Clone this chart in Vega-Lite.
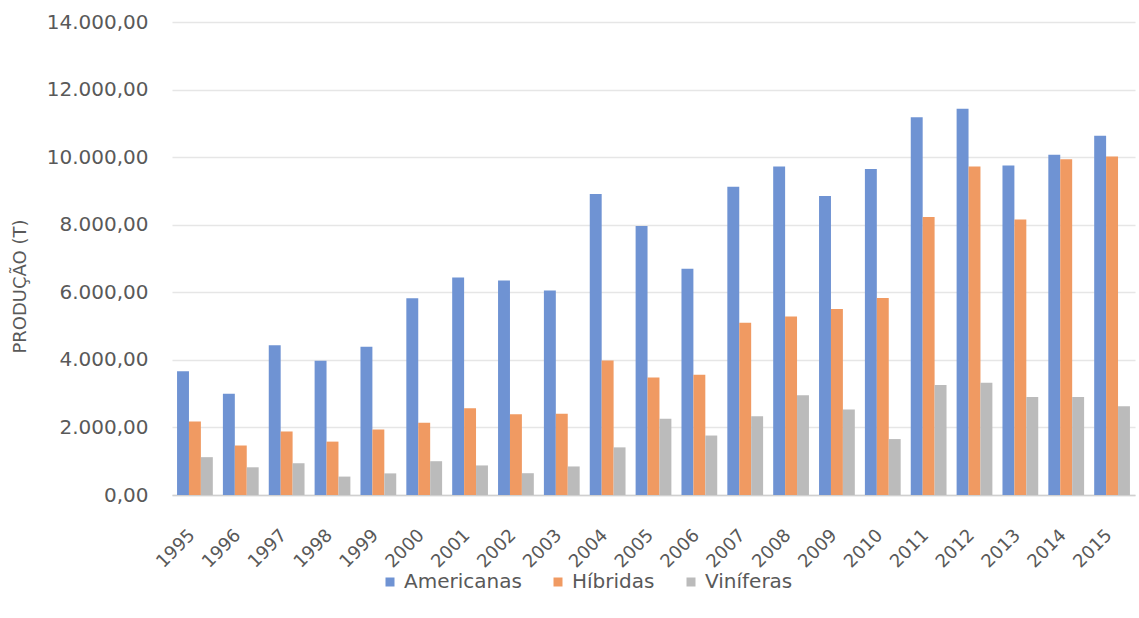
{
  "$schema": "https://vega.github.io/schema/vega-lite/v6.json",
  "width": 963,
  "height": 473,
  "autosize": {"type": "none"},
  "padding": {"left": 172, "top": 22, "right": 4, "bottom": 123},
  "background": "white",
  "config": {
    "locale": {"number": {"decimal": ",", "thousands": ".", "grouping": [3], "currency": ["R$", ""]}},
    "view": {"stroke": null},
    "font": "DejaVu Sans"
  },
  "data": {
    "values": [
      {"ano": "1995", "tipo": "Americanas", "producao": 3660}, {"ano": "1995", "tipo": "Híbridas", "producao": 2175}, {"ano": "1995", "tipo": "Viníferas", "producao": 1120},
      {"ano": "1996", "tipo": "Americanas", "producao": 3000}, {"ano": "1996", "tipo": "Híbridas", "producao": 1465}, {"ano": "1996", "tipo": "Viníferas", "producao": 820},
      {"ano": "1997", "tipo": "Americanas", "producao": 4430}, {"ano": "1997", "tipo": "Híbridas", "producao": 1880}, {"ano": "1997", "tipo": "Viníferas", "producao": 940},
      {"ano": "1998", "tipo": "Americanas", "producao": 3975}, {"ano": "1998", "tipo": "Híbridas", "producao": 1580}, {"ano": "1998", "tipo": "Viníferas", "producao": 545},
      {"ano": "1999", "tipo": "Americanas", "producao": 4390}, {"ano": "1999", "tipo": "Híbridas", "producao": 1940}, {"ano": "1999", "tipo": "Viníferas", "producao": 640},
      {"ano": "2000", "tipo": "Americanas", "producao": 5820}, {"ano": "2000", "tipo": "Híbridas", "producao": 2140}, {"ano": "2000", "tipo": "Viníferas", "producao": 1000},
      {"ano": "2001", "tipo": "Americanas", "producao": 6435}, {"ano": "2001", "tipo": "Híbridas", "producao": 2570}, {"ano": "2001", "tipo": "Viníferas", "producao": 875},
      {"ano": "2002", "tipo": "Americanas", "producao": 6350}, {"ano": "2002", "tipo": "Híbridas", "producao": 2390}, {"ano": "2002", "tipo": "Viníferas", "producao": 645},
      {"ano": "2003", "tipo": "Americanas", "producao": 6050}, {"ano": "2003", "tipo": "Híbridas", "producao": 2405}, {"ano": "2003", "tipo": "Viníferas", "producao": 845},
      {"ano": "2004", "tipo": "Americanas", "producao": 8910}, {"ano": "2004", "tipo": "Híbridas", "producao": 3980}, {"ano": "2004", "tipo": "Viníferas", "producao": 1410},
      {"ano": "2005", "tipo": "Americanas", "producao": 7960}, {"ano": "2005", "tipo": "Híbridas", "producao": 3480}, {"ano": "2005", "tipo": "Viníferas", "producao": 2260},
      {"ano": "2006", "tipo": "Americanas", "producao": 6700}, {"ano": "2006", "tipo": "Híbridas", "producao": 3560}, {"ano": "2006", "tipo": "Viníferas", "producao": 1760},
      {"ano": "2007", "tipo": "Americanas", "producao": 9125}, {"ano": "2007", "tipo": "Híbridas", "producao": 5100}, {"ano": "2007", "tipo": "Viníferas", "producao": 2330},
      {"ano": "2008", "tipo": "Americanas", "producao": 9720}, {"ano": "2008", "tipo": "Híbridas", "producao": 5280}, {"ano": "2008", "tipo": "Viníferas", "producao": 2955},
      {"ano": "2009", "tipo": "Americanas", "producao": 8850}, {"ano": "2009", "tipo": "Híbridas", "producao": 5505}, {"ano": "2009", "tipo": "Viníferas", "producao": 2530},
      {"ano": "2010", "tipo": "Americanas", "producao": 9650}, {"ano": "2010", "tipo": "Híbridas", "producao": 5830}, {"ano": "2010", "tipo": "Viníferas", "producao": 1655},
      {"ano": "2011", "tipo": "Americanas", "producao": 11180}, {"ano": "2011", "tipo": "Híbridas", "producao": 8230}, {"ano": "2011", "tipo": "Viníferas", "producao": 3255},
      {"ano": "2012", "tipo": "Americanas", "producao": 11430}, {"ano": "2012", "tipo": "Híbridas", "producao": 9720}, {"ano": "2012", "tipo": "Viníferas", "producao": 3320},
      {"ano": "2013", "tipo": "Americanas", "producao": 9750}, {"ano": "2013", "tipo": "Híbridas", "producao": 8155}, {"ano": "2013", "tipo": "Viníferas", "producao": 2900},
      {"ano": "2014", "tipo": "Americanas", "producao": 10070}, {"ano": "2014", "tipo": "Híbridas", "producao": 9940}, {"ano": "2014", "tipo": "Viníferas", "producao": 2900},
      {"ano": "2015", "tipo": "Americanas", "producao": 10635}, {"ano": "2015", "tipo": "Híbridas", "producao": 10020}, {"ano": "2015", "tipo": "Viníferas", "producao": 2630}
    ]
  },
  "mark": {"type": "bar"},
  "encoding": {
    "x": {
      "field": "ano",
      "type": "nominal",
      "scale": {"paddingInner": 0.22, "paddingOuter": 0.11},
      "axis": {
        "title": null,
        "labelAngle": -45,
        "labelFontSize": 18,
        "labelColor": "#595959",
        "labelPadding": 31,
        "labelOffset": -9,
        "ticks": false,
        "domainColor": "#d0d0d0",
        "domainWidth": 1.5,
        "grid": false
      }
    },
    "xOffset": {"field": "tipo", "sort": ["Americanas", "Híbridas", "Viníferas"]},
    "y": {
      "field": "producao",
      "type": "quantitative",
      "scale": {"domain": [0, 14000]},
      "axis": {
        "title": "PRODUÇÃO (T)",
        "titleFontSize": 18,
        "titleFontWeight": "normal",
        "titleColor": "#595959",
        "titleX": -152,
        "titleY": 264,
        "titleAlign": "center",
        "titleBaseline": "middle",
        "titleAngle": -90,
        "values": [0, 2000, 4000, 6000, 8000, 10000, 12000, 14000],
        "format": ",.2f",
        "labelFontSize": 20,
        "labelColor": "#595959",
        "labelPadding": 24,
        "ticks": false,
        "domain": false,
        "gridColor": "#e6e6e6",
        "gridWidth": 1.5
      }
    },
    "color": {
      "field": "tipo",
      "type": "nominal",
      "sort": ["Americanas", "Híbridas", "Viníferas"],
      "scale": {"domain": ["Americanas", "Híbridas", "Viníferas"], "range": ["#6F93D3", "#F09A62", "#BBBBBB"]},
      "legend": {
        "title": null,
        "orient": "none",
        "direction": "horizontal",
        "legendX": 208,
        "legendY": 550,
        "symbolType": "square",
        "symbolSize": 81,
        "symbolStrokeWidth": 0,
        "labelFontSize": 20,
        "labelColor": "#595959",
        "labelOffset": 4,
        "columnPadding": 26
      }
    }
  }
}
